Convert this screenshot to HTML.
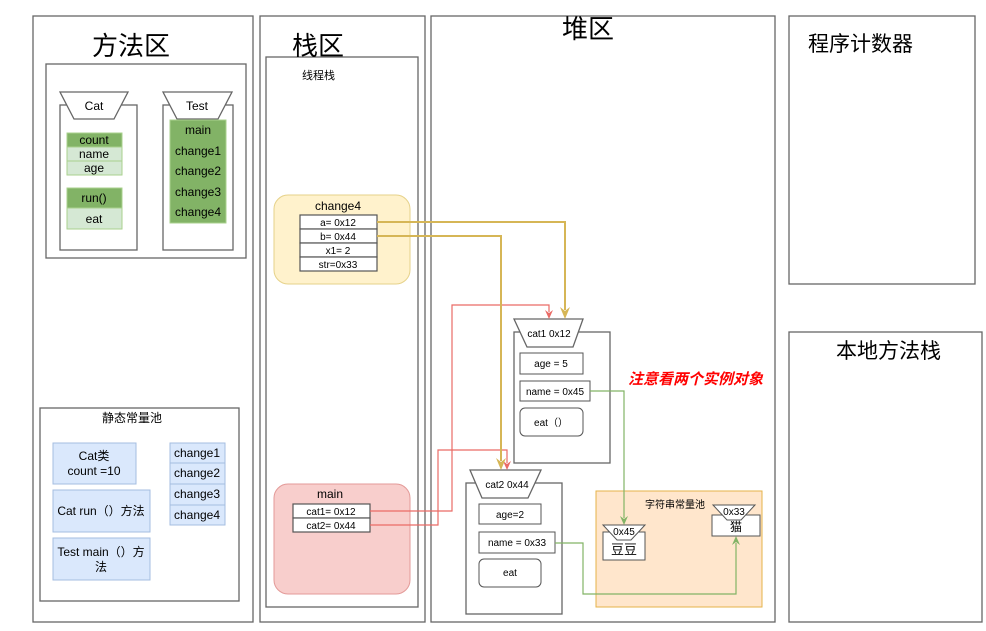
<!DOCTYPE html>
<html><head><meta charset="utf-8"><style>
html,body{margin:0;padding:0;background:#fff;}
svg{display:block;font-family:"Liberation Sans","Noto Sans CJK SC",sans-serif;}
</style></head><body>
<svg width="986" height="631" viewBox="0 0 986 631" xmlns="http://www.w3.org/2000/svg">
<g fill="none" stroke="#666" stroke-width="1.3">
<rect x="33" y="16" width="220" height="606" fill="#fff"/>
<rect x="260" y="16" width="165" height="606"/>
<rect x="266" y="57" width="152" height="550"/>
<rect x="431" y="16" width="344" height="606"/>
<rect x="789" y="16" width="186" height="268"/>
<rect x="789" y="332" width="193" height="290"/>
<rect x="46" y="64" width="200" height="194"/>
<rect x="40" y="408" width="199" height="193"/>
</g>
<g font-size="26" fill="#000">
<text x="92" y="55">方法区</text>
<text x="292" y="55">栈区</text>
<text x="562" y="38">堆区</text>
</g>
<text x="808" y="51" font-size="21">程序计数器</text>
<text x="836" y="358" font-size="21">本地方法栈</text>
<text x="302" y="79" font-size="11">线程栈</text>

<rect x="60" y="105" width="77" height="145" fill="#fff" stroke="#666" stroke-width="1.3"/>
<path d="M60,92 L128,92 L114,119 L74,119 Z" fill="#fff" stroke="#666" stroke-width="1.3"/>
<text x="94" y="110" font-size="12" text-anchor="middle">Cat</text>
<rect x="67" y="133" width="55" height="14" fill="#82b366" stroke="#a9d18e"/>
<rect x="67" y="147" width="55" height="14" fill="#d5e8d4" stroke="#a9d18e"/>
<rect x="67" y="161" width="55" height="14" fill="#d5e8d4" stroke="#a9d18e"/>
<rect x="67" y="188" width="55" height="20" fill="#82b366" stroke="#a9d18e"/>
<rect x="67" y="208" width="55" height="21" fill="#d5e8d4" stroke="#a9d18e"/>
<g font-size="12" text-anchor="middle">
<text x="94" y="144">count</text><text x="94" y="158">name</text><text x="94" y="172">age</text>
<text x="94" y="202">run()</text><text x="94" y="223">eat</text>
</g>
<rect x="163" y="105" width="70" height="145" fill="#fff" stroke="#666" stroke-width="1.3"/>
<path d="M163,92 L232,92 L218,119 L177,119 Z" fill="#fff" stroke="#666" stroke-width="1.3"/>
<text x="197" y="110" font-size="12" text-anchor="middle">Test</text>
<rect x="170" y="120" width="56" height="103" fill="#82b366" stroke="#a9d18e"/>
<g font-size="12" text-anchor="middle">
<text x="198" y="134">main</text><text x="198" y="155">change1</text><text x="198" y="175">change2</text><text x="198" y="196">change3</text><text x="198" y="216">change4</text>
</g>

<text x="132" y="422" font-size="12" text-anchor="middle">静态常量池</text>
<g fill="#dae8fc" stroke="#a4bee0">
<rect x="53" y="443" width="83" height="41"/>
<rect x="53" y="490" width="97" height="42"/>
<rect x="53" y="538" width="97" height="42"/>
<rect x="170" y="443" width="55" height="20"/>
<rect x="170" y="463" width="55" height="21"/>
<rect x="170" y="484" width="55" height="21"/>
<rect x="170" y="505" width="55" height="20"/>
</g>
<g font-size="12" text-anchor="middle">
<text x="94" y="460">Cat类</text><text x="94" y="475">count =10</text>
<text x="101" y="515">Cat  run（）方法</text>
<text x="101" y="556">Test main（）方</text><text x="101" y="571">法</text>
<text x="197" y="457">change1</text><text x="197" y="477">change2</text><text x="197" y="498">change3</text><text x="197" y="519">change4</text>
</g>

<rect x="274" y="195" width="136" height="89" rx="14" fill="#fff2cc" stroke="#e6d28a"/>
<text x="338" y="210" font-size="12" text-anchor="middle">change4</text>
<g fill="#fff" stroke="#555" stroke-width="1.2">
<rect x="300" y="215" width="77" height="14"/><rect x="300" y="229" width="77" height="14"/>
<rect x="300" y="243" width="77" height="14"/><rect x="300" y="257" width="77" height="14"/>
</g>
<g font-size="10" text-anchor="middle">
<text x="338" y="226">a= 0x12</text><text x="338" y="240">b= 0x44</text><text x="338" y="254">x1= 2</text><text x="338" y="268">str=0x33</text>
</g>
<rect x="274" y="484" width="136" height="110" rx="14" fill="#f8cecc" stroke="#e39a98"/>
<text x="330" y="498" font-size="12" text-anchor="middle">main</text>
<g fill="#fff" stroke="#555" stroke-width="1.2">
<rect x="293" y="504" width="77" height="14"/><rect x="293" y="518" width="77" height="14"/>
</g>
<g font-size="10" text-anchor="middle"><text x="331" y="515">cat1= 0x12</text><text x="331" y="529">cat2= 0x44</text></g>

<rect x="514" y="332" width="96" height="131" fill="#fff" stroke="#666" stroke-width="1.3"/>
<path d="M514,319 L583,319 L573,347 L527,347 Z" fill="#fff" stroke="#666" stroke-width="1.3"/>
<text x="549" y="337" font-size="10" text-anchor="middle">cat1 0x12</text>
<rect x="520" y="353" width="63" height="21" fill="#fff" stroke="#555"/>
<rect x="520" y="381" width="70" height="20" fill="#fff" stroke="#555"/>
<rect x="520" y="408" width="63" height="28" rx="5" fill="#fff" stroke="#555"/>
<g font-size="10" text-anchor="middle"><text x="551" y="367">age = 5</text><text x="555" y="395">name = 0x45</text><text x="551" y="426">eat（）</text></g>
<rect x="466" y="483" width="96" height="131" fill="#fff" stroke="#666" stroke-width="1.3"/>
<path d="M470,470 L541,470 L528,498 L482,498 Z" fill="#fff" stroke="#666" stroke-width="1.3"/>
<text x="507" y="488" font-size="10" text-anchor="middle">cat2 0x44</text>
<rect x="479" y="504" width="62" height="20" fill="#fff" stroke="#555"/>
<rect x="479" y="532" width="76" height="21" fill="#fff" stroke="#555"/>
<rect x="479" y="559" width="62" height="28" rx="5" fill="#fff" stroke="#555"/>
<g font-size="10" text-anchor="middle"><text x="510" y="518">age=2</text><text x="517" y="546">name = 0x33</text><text x="510" y="576">eat</text></g>

<text x="628" y="384" font-size="15" font-weight="bold" font-style="italic" fill="#ff0000">注意看两个实例对象</text>

<rect x="596" y="491" width="166" height="116" fill="#ffe6cc" stroke="#e6b34a"/>
<text x="675" y="508" font-size="10" text-anchor="middle">字符串常量池</text>
<rect x="603" y="532" width="42" height="28" fill="#fff" stroke="#555"/>
<path d="M603,525 L645,525 L631,540 L617,540 Z" fill="#fff" stroke="#555"/>
<text x="624" y="535" font-size="10" text-anchor="middle">0x45</text>
<text x="624" y="554" font-size="13" text-anchor="middle">豆豆</text>
<rect x="712" y="515" width="48" height="21" fill="#fff" stroke="#555"/>
<path d="M713,505 L755,505 L741,520 L727,520 Z" fill="#fff" stroke="#555"/>
<text x="734" y="515" font-size="10" text-anchor="middle">0x33</text>
<text x="736" y="531" font-size="12" text-anchor="middle">猫</text>

<g fill="none" stroke-width="1.2">
<path d="M370,511 L452,511 L452,305 L549,305 L549,312" stroke="#ea6b66"/>
<path d="M370,525 L438,525 L438,450 L507,450 L507,463" stroke="#ea6b66"/>
<path d="M377,222 L565,222 L565,310" stroke="#d6b656" stroke-width="2"/>
<path d="M377,236 L501,236 L501,461" stroke="#d6b656" stroke-width="2"/>
<path d="M590,391 L624,391 L624,518" stroke="#82b366"/>
<path d="M555,543 L583,543 L583,594 L736,594 L736,543" stroke="#82b366"/>
</g>
<polygon points="545,310 549,313 553,310 549,319" fill="#ea6b66"/>
<polygon points="503,461 507,464 511,461 507,470" fill="#ea6b66"/>
<polygon points="560,307 565,311 570,307 565,319" fill="#d6b656"/>
<polygon points="496,458 501,462 506,458 501,470" fill="#d6b656"/>
<polygon points="620,516 624,519 628,516 624,525" fill="#82b366"/>
<polygon points="732,545 736,542 740,545 736,536" fill="#82b366"/>
</svg>
</body></html>
